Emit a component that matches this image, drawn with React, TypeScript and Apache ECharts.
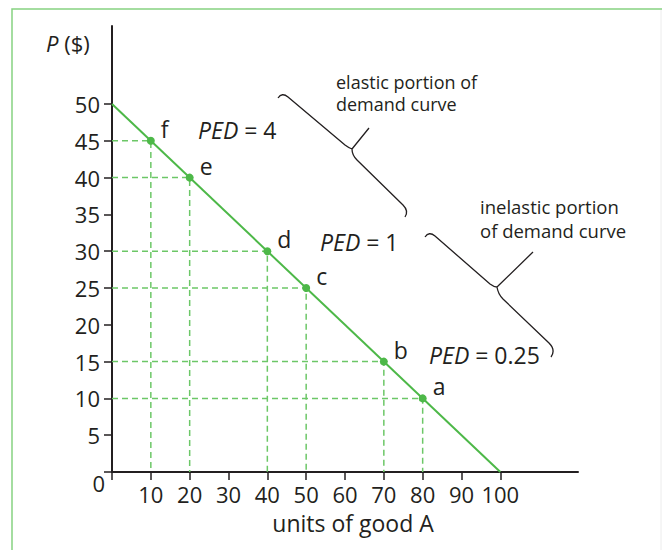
import React, { useEffect, useRef } from "react";
import * as echarts from "echarts";

// ---- data ----
const pointNames = ["a", "b", "c", "d", "e", "f"];
const quantities = [80, 70, 50, 40, 20, 10];
const prices = [10, 15, 25, 30, 40, 45];
const demandQ = [0, 100];
const demandP = [50, 0];
const xTicks = [0, 10, 20, 30, 40, 50, 60, 70, 80, 90, 100];
const xLabels = [10, 20, 30, 40, 50, 60, 70, 80, 90, 100];
const yTicks = [0, 5, 10, 15, 20, 25, 30, 35, 40, 45, 50];
const yLabels = [5, 10, 15, 20, 25, 30, 35, 40, 45, 50];
const pedTexts = ["4", "1", "0.25"];
const xName = "units of good A";
const yName = "P";
const elasticNote = "elastic portion of\ndemand curve";
const inelasticNote = "inelastic portion\nof demand curve";

const FONT = "'Open Sans', sans-serif";
const INK = "#231f20";
const GREEN = "#4db848";
const DASH = "#6cc767";

const elasticBrace =
  "M278 98 Q282 92 288 97 L345 145 Q349 148 352 149 M352 149 L369 128 M352 149 Q352 155 357 160 L403 205 Q409 211 405 217";
const inelasticBrace =
  "M425 237 Q429 231 435 236 L490 284 Q494 287 497 287 M497 287 L533 252 M497 287 Q498 294 503 299 L549 343 Q556 350 551 357";

export default function App() {
  const ref = useRef<HTMLDivElement>(null);
  useEffect(() => {
    if (!ref.current) return;
    echarts.graphic.registerShape("elasticBrace", echarts.graphic.extendPath(elasticBrace, {}));
    echarts.graphic.registerShape("inelasticBrace", echarts.graphic.extendPath(inelasticBrace, {}));
    const chart = echarts.init(ref.current, null, { renderer: "svg" });

    const guideSeries = quantities.map((q, i) => ({
      type: "line",
      silent: true,
      symbol: "none",
      z: 1,
      lineStyle: { color: DASH, width: 1.5, type: [6, 4] },
      data: [
        [0, prices[i]],
        [q, prices[i]],
        [q, 0],
      ],
    }));

    const pedRich = (v: string, x: number, y: number) => ({
      type: "text",
      x,
      y,
      style: {
        text: "{i|PED}{n| = " + v + "}",
        verticalAlign: "middle",
        rich: {
          i: { fontStyle: "italic", fontSize: 23, lineHeight: 24, fontFamily: FONT, fill: INK },
          n: { fontSize: 23, lineHeight: 24, fontFamily: FONT, fill: INK },
        },
      },
    });

    chart.setOption({
      animation: false,
      grid: { left: 112, right: 84, top: 26, bottom: 78, outerBoundsMode: "none" },
      xAxis: {
        type: "value",
        min: 0,
        max: 120,
        name: xName,
        nameLocation: "middle",
        nameGap: 39,
        nameTextStyle: { fontSize: 23, lineHeight: 24, fontFamily: FONT, color: INK, padding: [0, 0, 0, 16] },
        axisLine: { show: true, lineStyle: { color: INK, width: 2 } },
        axisTick: { show: true, customValues: xTicks, length: 8, lineStyle: { color: INK, width: 1.5 } },
        axisLabel: { customValues: xLabels, fontSize: 22, lineHeight: 22, fontFamily: FONT, color: INK, margin: 11 },
        splitLine: { show: false },
      },
      yAxis: {
        type: "value",
        min: 0,
        max: 60.6,
        axisLine: { show: true, lineStyle: { color: INK, width: 2 } },
        axisTick: { show: true, customValues: yTicks, length: 8, lineStyle: { color: INK, width: 1.5 } },
        axisLabel: { customValues: yLabels, fontSize: 22, lineHeight: 22, fontFamily: FONT, color: INK, margin: 12 },
        splitLine: { show: false },
      },
      series: [
        ...guideSeries,
        {
          type: "line",
          symbol: "none",
          z: 2,
          lineStyle: { color: GREEN, width: 2 },
          data: demandQ.map((q, i) => [q, demandP[i]]),
        },
        {
          type: "scatter",
          z: 3,
          symbolSize: 8,
          itemStyle: { color: GREEN, opacity: 1 },
          label: {
            show: true,
            position: "right",
            distance: 6,
            offset: [0, -12],
            fontSize: 23,
            lineHeight: 22,
            fontFamily: FONT,
            color: INK,
            opacity: 1,
            textBorderWidth: 0,
            formatter: (p: any) => pointNames[p.dataIndex],
          },
          data: quantities.map((q, i) => [q, prices[i]]),
        },
      ],
      graphic: [
        {
          type: "rect",
          silent: true,
          shape: { x: 12, y: 9, width: 700, height: 600 },
          style: { fill: "none", stroke: "#86d281", lineWidth: 1.5 },
        },
        {
          type: "line",
          silent: true,
          shape: { x1: 661, y1: 10, x2: 661, y2: 550 },
          style: { stroke: "#ececec", lineWidth: 1 },
        },
        {
          type: "text",
          x: 46,
          y: 43,
          style: {
            text: "{i|" + yName + "}{n| ($)}",
            verticalAlign: "middle",
            rich: {
              i: { fontStyle: "italic", fontSize: 22, fontFamily: FONT, fill: INK },
              n: { fontSize: 22, fontFamily: FONT, fill: INK },
            },
          },
        },
        {
          type: "text",
          x: 105,
          y: 483,
          style: { text: "0", align: "right", verticalAlign: "middle", fontSize: 22, fontFamily: FONT, fill: INK },
        },
        {
          type: "text",
          x: 336,
          y: 93,
          style: {
            text: elasticNote,
            verticalAlign: "middle",
            fontSize: 18,
            lineHeight: 22,
            fontFamily: FONT,
            fill: INK,
          },
        },
        {
          type: "text",
          x: 480,
          y: 218,
          style: {
            text: inelasticNote,
            verticalAlign: "middle",
            fontSize: 18.5,
            lineHeight: 24,
            fontFamily: FONT,
            fill: INK,
          },
        },
        pedRich(pedTexts[0], 198, 130),
        pedRich(pedTexts[1], 320, 242),
        pedRich(pedTexts[2], 429, 355),
        {
          type: "elasticBrace",
          x: 0,
          y: 0,
          silent: true,
          style: { fill: "none", stroke: INK, lineWidth: 1.3 },
        },
        {
          type: "inelasticBrace",
          x: 0,
          y: 0,
          silent: true,
          style: { fill: "none", stroke: INK, lineWidth: 1.3 },
        },
      ],
    });
    return () => chart.dispose();
  }, []);
  return (
    <div
      ref={ref}
      style={{ position: "fixed", left: 0, top: 0, width: 662, height: 550, background: "#fff" }}
    />
  );
}
